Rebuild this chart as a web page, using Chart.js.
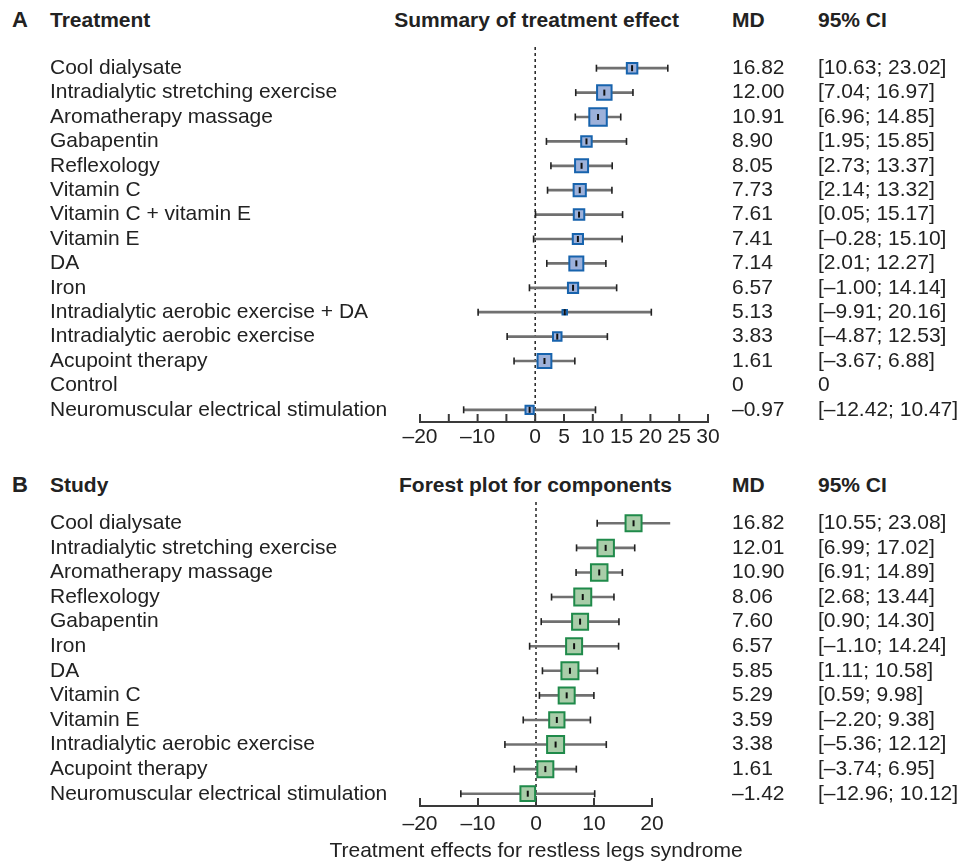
<!DOCTYPE html>
<html>
<head>
<meta charset="utf-8">
<title>Forest plots – restless legs syndrome</title>
<script src="https://cdn.jsdelivr.net/npm/chart.js@4/dist/chart.umd.min.js"></script>
<style>
  body { margin: 0; background: #fff; }
  #page { position: relative; width: 962px; height: 862px; font-family: "Liberation Sans", Arial, sans-serif; color: #222; }
  .hd { position: absolute; font-weight: bold; font-size: 21px; line-height: 24px; white-space: nowrap; }
  .box { position: absolute; left: 0; width: 962px; }
  #xtitle { position: absolute; left: 236px; width: 600px; top: 838px; text-align: center; font-size: 21px; line-height: 24px; }
</style>
</head>
<body>
<div id="page">
  <!-- panel A headers -->
  <div class="hd" style="left:12px; top:8px; font-size:22px">A</div>
  <div class="hd" style="left:50px; top:8px">Treatment</div>
  <div class="hd" style="right:283px; top:8px">Summary of treatment effect</div>
  <div class="hd" style="left:732px; top:8px">MD</div>
  <div class="hd" style="left:818px; top:8px">95% CI</div>
  <!-- panel B headers -->
  <div class="hd" style="left:12px; top:473px; font-size:22px">B</div>
  <div class="hd" style="left:50px; top:473px">Study</div>
  <div class="hd" style="right:290px; top:473px">Forest plot for components</div>
  <div class="hd" style="left:732px; top:473px">MD</div>
  <div class="hd" style="left:818px; top:473px">95% CI</div>

  <div class="box" style="top:0; height:462px"><canvas id="chartA"></canvas></div>
  <div class="box" style="top:462px; height:400px"><canvas id="chartB"></canvas></div>
  <div id="xtitle">Treatment effects for restless legs syndrome</div>
</div>

<script>
// ---- data: panel A (network meta-analysis, summary of treatment effect) ----
const labelsA = [
  'Cool dialysate', 'Intradialytic stretching exercise', 'Aromatherapy massage',
  'Gabapentin', 'Reflexology', 'Vitamin C', 'Vitamin C + vitamin E', 'Vitamin E',
  'DA', 'Iron', 'Intradialytic aerobic exercise + DA', 'Intradialytic aerobic exercise',
  'Acupoint therapy', 'Control', 'Neuromuscular electrical stimulation'
];
const mdA = [16.82, 12.00, 10.91, 8.90, 8.05, 7.73, 7.61, 7.41, 7.14, 6.57, 5.13, 3.83, 1.61, 0, -0.97];
const loA = [10.63, 7.04, 6.96, 1.95, 2.73, 2.14, 0.05, -0.28, 2.01, -1.00, -9.91, -4.87, -3.67, null, -12.42];
const hiA = [23.02, 16.97, 14.85, 15.85, 13.37, 13.32, 15.17, 15.10, 12.27, 14.14, 20.16, 12.53, 6.88, null, 10.47];
// relative weight of each estimate (drives the square size)
const weightA = [12, 16, 19, 12, 14.5, 13.7, 12, 11.7, 15.5, 11.7, 6, 10, 15.3, 0, 9.7];

// ---- data: panel B (forest plot for components) ----
const labelsB = [
  'Cool dialysate', 'Intradialytic stretching exercise', 'Aromatherapy massage',
  'Reflexology', 'Gabapentin', 'Iron', 'DA', 'Vitamin C', 'Vitamin E',
  'Intradialytic aerobic exercise', 'Acupoint therapy', 'Neuromuscular electrical stimulation'
];
const mdB = [16.82, 12.01, 10.90, 8.06, 7.60, 6.57, 5.85, 5.29, 3.59, 3.38, 1.61, -1.42];
const loB = [10.55, 6.99, 6.91, 2.68, 0.90, -1.10, 1.11, 0.59, -2.20, -5.36, -3.74, -12.96];
const hiB = [23.08, 17.02, 14.89, 13.44, 14.30, 14.24, 10.58, 9.98, 9.38, 12.12, 6.95, 10.12];
const weightB = [17.5, 18, 18, 18.5, 17.5, 17.5, 18.5, 17.5, 16.8, 18.5, 17.5, 16.2];

const FONT = '"Liberation Sans", Arial, sans-serif';
const INK = '#222';
Chart.defaults.font.family = FONT;
Chart.defaults.font.size = 21;
Chart.defaults.color = INK;

const dash = s => String(s).replace('-', '\u2013');
const fmt = v => dash(v.toFixed(2));

// dashed null line, axis line with upward ticks, and the MD / CI text columns
function forestDecor(md, lo, hi) {
  return {
    id: 'forestDecor',
    beforeDatasetsDraw(chart) {
      const { ctx, chartArea: a, scales: { x } } = chart;
      const x0 = x.getPixelForValue(0);
      ctx.save();
      ctx.strokeStyle = INK;
      ctx.lineWidth = 1.5;
      ctx.setLineDash([3, 3]);
      ctx.beginPath();
      ctx.moveTo(x0, a.top - 9);
      ctx.lineTo(x0, a.bottom);
      ctx.stroke();
      ctx.setLineDash([]);
      ctx.strokeStyle = '#3a3a3a';
      ctx.lineWidth = 2;
      ctx.beginPath();
      ctx.moveTo(a.left, a.bottom);
      ctx.lineTo(a.right, a.bottom);
      x.ticks.forEach(t => {
        const px = x.getPixelForValue(t.value);
        ctx.moveTo(px, a.bottom + 1);
        ctx.lineTo(px, a.bottom - 8);
      });
      ctx.stroke();
      ctx.restore();
    },
    afterDraw(chart) {
      const { ctx, scales: { y } } = chart;
      ctx.save();
      ctx.font = '21px ' + FONT;
      ctx.fillStyle = INK;
      ctx.textBaseline = 'middle';
      md.forEach((m, i) => {
        const py = y.getPixelForValue(i);
        const none = lo[i] == null;
        ctx.fillText(none ? String(m) : fmt(m), 732, py);
        ctx.fillText(none ? '0' : '[' + fmt(lo[i]) + '; ' + fmt(hi[i]) + ']', 818, py);
      });
      ctx.restore();
    }
  };
}

function forestChart(id, cfg) {
  const { labels, md, lo, hi, weight, fill, edge, xMin, xMax, step, hideTicks,
          pad, xHeight, tickPad } = cfg;
  const mark = md.map((m, i) => lo[i] == null ? null : m);
  const capStyle = {
    type: 'line', showLine: false, indexAxis: 'y', clip: false,
    pointStyle: 'line', pointRotation: 90, pointRadius: 3.5,
    pointBorderColor: INK, pointBorderWidth: 1.6, order: 3
  };
  return new Chart(document.getElementById(id), {
    type: 'bar',
    data: {
      labels: labels,
      datasets: [
        // confidence interval line
        {
          type: 'bar', indexAxis: 'y', clip: false,
          data: lo.map((l, i) => l == null ? null : [l, hi[i]]),
          backgroundColor: '#707070', barThickness: 2, borderWidth: 0, order: 4
        },
        // interval end caps
        Object.assign({ data: lo }, capStyle),
        Object.assign({ data: hi }, capStyle),
        // weighted squares
        {
          type: 'line', showLine: false, indexAxis: 'y', clip: false, data: mark,
          pointStyle: 'rect',
          pointRadius: weight.map(w => Math.max(0, (w - 1.5) / Math.SQRT2)),
          pointBackgroundColor: fill, pointBorderColor: edge, pointBorderWidth: 2,
          order: 2
        },
        // point estimate tick
        {
          type: 'line', showLine: false, indexAxis: 'y', clip: false, data: mark,
          pointStyle: 'line', pointRotation: 90, pointRadius: 3,
          pointBorderColor: '#111', pointBorderWidth: 2, order: 1
        }
      ]
    },
    options: {
      indexAxis: 'y',
      responsive: true,
      maintainAspectRatio: false,
      animation: false,
      events: [],
      layout: { padding: pad },
      scales: {
        x: {
          type: 'linear', min: xMin, max: xMax,
          grid: { display: false, drawTicks: false },
          border: { display: false },
          ticks: {
            stepSize: step, padding: tickPad, color: INK, font: { size: 21 },
            autoSkip: false, maxRotation: 0, minRotation: 0,
            callback: v => hideTicks.includes(v) ? '' : dash(v)
          },
          afterFit: s => { s.height = xHeight; }
        },
        y: {
          type: 'category', offset: true,
          grid: { display: false, drawTicks: false },
          border: { display: false },
          ticks: { autoSkip: false, crossAlign: 'far', color: INK, font: { size: 21 } },
          afterFit: s => { s.width = 370; }
        }
      },
      plugins: { legend: { display: false }, tooltip: { enabled: false } }
    },
    plugins: [forestDecor(md, lo, hi)]
  });
}

forestChart('chartA', {
  labels: labelsA, md: mdA, lo: loA, hi: hiA, weight: weightA,
  fill: '#9db1da', edge: '#1763ad',
  xMin: -20, xMax: 30, step: 5, hideTicks: [-15, -5],
  pad: { left: 50, right: 254, top: 56, bottom: 0 },
  xHeight: 40, tickPad: 3
});

forestChart('chartB', {
  labels: labelsB, md: mdB, lo: loB, hi: hiB, weight: weightB,
  fill: '#a9cda9', edge: '#1f8a4a',
  xMin: -20, xMax: 20, step: 10, hideTicks: [],
  pad: { left: 50, right: 310, top: 49, bottom: 0 },
  xHeight: 56, tickPad: 6
});
</script>
</body>
</html>
